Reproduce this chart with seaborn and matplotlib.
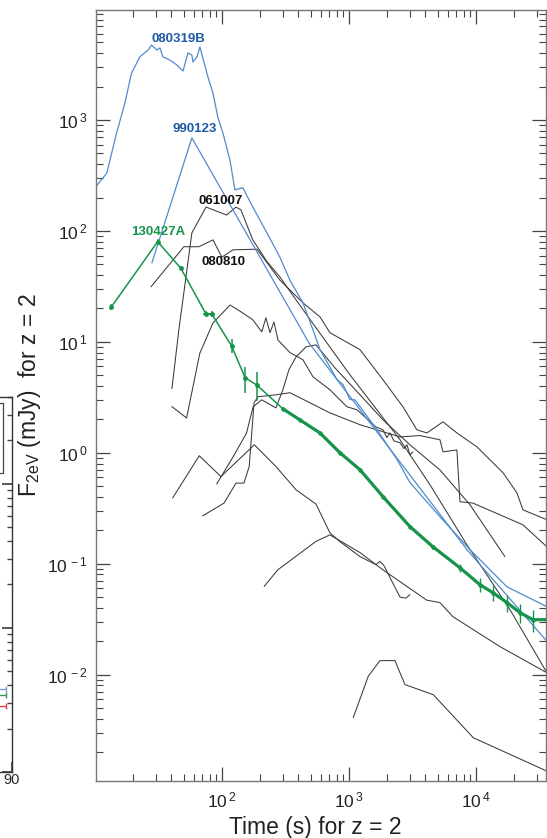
import matplotlib
matplotlib.use("Agg")
import matplotlib.pyplot as plt
import seaborn as sns
import numpy as np
from matplotlib.ticker import LogLocator, NullFormatter, FixedLocator, FixedFormatter
from matplotlib.patches import Rectangle

sns.set_theme(style="ticks")
plt.rcParams['font.family'] = ['Liberation Sans', 'DejaVu Sans']
plt.rcParams['mathtext.fontset'] = 'custom'
plt.rcParams['mathtext.rm'] = 'Liberation Sans'
plt.rcParams['mathtext.it'] = 'Liberation Sans:italic'
plt.rcParams['mathtext.bf'] = 'Liberation Sans:bold'

# ---------------- data (time s, flux mJy) ----------------
t_080319B = [10, 12.4, 14.8, 17.2, 19.4, 22.6, 26.3, 27.9, 30.8, 32.5, 34.4, 38.9, 44.2, 49.4,
             54.0, 58.0, 59.1, 63.6, 67.1, 70.8, 77.6, 84.9, 92.9, 101.8, 115.6, 126.6, 146,
             175, 226, 286, 343, 434, 521, 592, 805, 898, 1018, 1115, 1660, 2390, 3020, 5210,
             8970, 17500, 36200]
f_080319B = [245, 331, 759, 1413, 2630, 3715, 4275, 4740, 4270, 4460, 3700, 3470, 3130, 2760,
             4020, 3850, 3330, 3700, 4550, 3610, 2440, 1750, 1060, 764, 436, 234, 245,
             164, 96, 58, 36, 22.5, 12.8, 8.5, 4.57, 4.12, 3.02, 3.0, 1.62, 0.87, 0.54, 0.265,
             0.134, 0.062, 0.041]

t_990123 = [28.1, 58, 484, 8490, 36200]
f_990123 = [51.5, 689, 9.8, 0.134, 0.020]

t_061007 = [40.4, 45.8, 58, 75, 109, 129, 141, 175, 226, 286, 383, 550, 1018, 2523, 4345,
            8490, 18540, 36200]
f_061007 = [3.78, 12.8, 96, 164, 139, 164, 155, 83, 53, 38.5, 23.9, 13.4, 5.05, 1.31, 0.515,
            0.148, 0.0385, 0.0104]

t_080810 = [27.6, 50.2, 65.9, 85, 100, 122, 189, 286, 434, 591, 708, 1222, 1854, 2660, 3428,
            4112, 5500, 7080, 10180, 16340, 21000, 23440, 36200]
f_080810 = [31.3, 72, 72, 83, 58, 67.5, 68.4, 36, 22.5, 16.8, 12.1, 8.5, 4.55, 2.6, 1.61,
            1.51, 1.90, 1.51, 1.13, 0.66, 0.436, 0.306, 0.249]

t_grb_a = [40.3, 52.7, 67, 85, 116, 146, 175, 206, 222, 239, 257, 276, 343, 434, 521, 708, 964,
           1156, 1633, 1854, 1990, 2104, 2260, 2523, 2710, 2863, 3022, 3190]
f_grb_a = [2.61, 2.06, 7.9, 14.8, 21.5, 18.2, 15.8, 12.3, 16.5, 12.1, 15.1, 10.4, 8.0, 6.9,
           4.84, 3.70, 2.6, 2.44, 1.71, 1.61, 1.37, 1.51, 1.28, 1.23, 1.09, 1.18, 0.96, 1.02]

t_grb_b = [70.5, 104, 129, 149, 164, 179, 192, 266, 343, 708, 1222, 2523, 3623, 5206, 5500,
           7080, 7480, 9460, 15450, 23440, 36200]
f_grb_b = [0.27, 0.352, 0.533, 0.533, 0.753, 2.82, 3.2, 3.33, 3.48, 2.29, 1.79, 1.39, 1.43,
           1.31, 1.02, 1.06, 0.362, 0.352, 0.276, 0.224, 0.142]

t_grb_c = [90.9, 123, 156, 176, 206, 266, 302, 337, 383, 459, 550, 776, 1222, 1854, 3022,
           5206, 8970, 16900]
f_grb_c = [0.523, 0.927, 1.50, 2.6, 3.0, 2.54, 3.70, 5.6, 7.3, 9.0, 9.4, 5.83, 3.33, 1.98,
           1.18, 0.70, 0.34, 0.116]

t_grb_d = [40.9, 66.3, 98.2, 180, 266, 383, 550, 708, 850, 1222, 1633, 1754, 1888, 2523,
           2812, 3022]
f_grb_d = [0.391, 0.94, 0.61, 1.18, 0.753, 0.464, 0.345, 0.19, 0.158, 0.116, 0.098, 0.105,
           0.096, 0.050, 0.049, 0.0526]

t_grb_e = [215, 275, 550, 708, 1222, 1854, 4090, 5206, 6590, 15450, 36200]
f_grb_e = [0.0624, 0.088, 0.159, 0.182, 0.126, 0.088, 0.047, 0.0446, 0.0333, 0.0179, 0.0104]

t_grb_f = [1081, 1419, 1754, 2302, 2760, 4613, 9530, 36200]
f_grb_f = [0.0041, 0.00966, 0.01337, 0.0134, 0.00813, 0.0066, 0.0027, 0.00135]

# 130427A
t_130427A_early = [13.5, 31.2, 47.5, 74.8, 83, 119, 152, 189]
f_130427A_early = [20.7, 80, 46, 17.9, 17.9, 9.2, 4.77, 4.06]
f_130427A_lo = [19.5, 76, 44, 17.0, 17.0, 8.0, 3.49, 2.9]
f_130427A_hi = [22.0, 84, 48, 18.8, 18.8, 10.5, 5.98, 5.3]
t_130427A_xlo = [13.5, 31.2, 47.5, 71.5, 79.5, 119, 152, 189]
t_130427A_xhi = [13.5, 31.2, 47.5, 78.0, 86.5, 119, 152, 189]
t_130427A = [302, 411, 591, 850, 1222, 1854, 3022, 4585, 7474, 10740, 13600, 17540, 22200,
             28100, 36200]
f_130427A = [2.49, 1.98, 1.51, 1.0, 0.703, 0.402, 0.216, 0.142, 0.092, 0.0647, 0.0548,
             0.0446, 0.0362, 0.0313, 0.0313]
f_130427A_err = [0.05, 0.04, 0.03, 0.02, 0.015, 0.01, 0.006, 0.006, 0.008, 0.009, 0.009,
                 0.008, 0.007, 0.007, 0.007]

labels = ["080319B", "990123", "061007", "130427A", "080810"]

BLUE_LINE = "#4f8ccc"
BLUE_TXT = "#1f5aa6"
GREEN = "#16944a"
BLACK = "#3a3a3a"

W, H = 547, 838
fig = plt.figure(figsize=(W / 100, H / 100), dpi=100)

# ---------- main axes ----------
L, R, T, B = 96, 546, 10, 781
ax = fig.add_axes([L / W, (H - B) / H, (R - L) / W, (B - T) / H])
ax.set_xscale("log")
ax.set_yscale("log")
ax.set_xlim(10.2, 35600)
ax.set_ylim(1.1e-3, 9800)

black_sets = [(t_061007, f_061007), (t_080810, f_080810), (t_grb_a, f_grb_a),
              (t_grb_b, f_grb_b), (t_grb_c, f_grb_c), (t_grb_d, f_grb_d),
              (t_grb_e, f_grb_e), (t_grb_f, f_grb_f)]
for tt, ff in black_sets:
    sns.lineplot(x=tt, y=ff, ax=ax, color=BLACK, lw=0.75, sort=False, estimator=None)

sns.lineplot(x=t_080319B, y=f_080319B, ax=ax, color=BLUE_LINE, lw=0.9, sort=False, estimator=None)
sns.lineplot(x=t_990123, y=f_990123, ax=ax, color=BLUE_LINE, lw=0.9, sort=False, estimator=None)

# 130427A
t_all = t_130427A_early + t_130427A
f_all = f_130427A_early + f_130427A
sns.lineplot(x=t_all, y=f_all, ax=ax, color=GREEN, lw=1.1, sort=False, estimator=None)
sns.lineplot(x=t_130427A, y=f_130427A, ax=ax, color=GREEN, lw=2.3, sort=False, estimator=None,
             marker="o", markersize=3.2, markeredgewidth=0)
ax.errorbar(t_130427A, f_130427A, yerr=f_130427A_err, fmt="none", ecolor=GREEN,
            elinewidth=1.0, capsize=0)
te = np.array(t_130427A_early)
fe = np.array(f_130427A_early)
ax.errorbar(te, fe,
            yerr=[fe - np.array(f_130427A_lo), np.array(f_130427A_hi) - fe],
            xerr=[te - np.array(t_130427A_xlo), np.array(t_130427A_xhi) - te],
            fmt="o", ms=2.5, color=GREEN, elinewidth=1.1, capsize=0)

ax.set_xlabel("Time (s) for z = 2", fontsize=16.5, color="#222222")
ax.set_ylabel(r"F$_{\rm 2eV}$ (mJy)  for z = 2", fontsize=16.5, color="#222222")
ax.xaxis.set_label_coords(0.487, -0.045)
ax.yaxis.set_label_coords(-0.117, 0.5)


def sup(e):
    return r"$\mathregular{10^{\,%d}}$" % e


ax.xaxis.set_major_locator(FixedLocator([1e2, 1e3, 1e4]))
ax.xaxis.set_major_formatter(FixedFormatter([sup(2), sup(3), sup(4)]))
ax.xaxis.set_minor_locator(LogLocator(base=10, subs=np.arange(2, 10)))
ax.xaxis.set_minor_formatter(NullFormatter())
yexp = [-2, -1, 0, 1, 2, 3]
ax.yaxis.set_major_locator(FixedLocator([10.0 ** e for e in yexp]))
ax.yaxis.set_major_formatter(FixedFormatter([sup(e) for e in yexp]))
ax.yaxis.set_minor_locator(LogLocator(base=10, subs=np.arange(2, 10), numticks=20))
ax.yaxis.set_minor_formatter(NullFormatter())

ax.tick_params(which="both", direction="in", top=True, right=True, color="#444444")
ax.tick_params(which="major", length=10, width=0.9, labelsize=12.5, pad=6, labelcolor="#222222")
ax.tick_params(which="minor", length=5, width=0.8)
ax.tick_params(axis="x", which="major", pad=7)
for s in ax.spines.values():
    s.set_color("#777777")
    s.set_linewidth(1.0)

txt_pos = [(0.184, 0.962, BLUE_TXT), (0.220, 0.846, BLUE_TXT), (0.278, 0.752, "#111111"),
           (0.138, 0.712, GREEN), (0.284, 0.673, "#111111")]
for lab, (fx, fy, c) in zip(labels, txt_pos):
    ax.text(fx, fy, lab, transform=ax.transAxes, ha="center", va="center",
            fontsize=9.5, fontweight="bold", color=c)

# ---------- fragment of neighbouring panel on the left ----------
pL, pR, pT, pB = -300, 11.7, 396.7, 772
ax0 = fig.add_axes([pL / W, (H - pB) / H, (pR - pL) / W, (pB - pT) / H])
ax0.set_xlim(0, 90)
ax0.set_yscale("log")
ax0.set_ylim(0.1, 40)
ax0.set_xticks([90])
ax0.set_xticklabels(["90"])
ax0.tick_params(which="both", direction="in", right=True, top=False, left=False,
                labelleft=False, color="#444444")
ax0.tick_params(which="major", length=7, labelsize=10.5, pad=1)
ax0.tick_params(which="minor", length=3.5)
for s in ax0.spines.values():
    s.set_color("#333333")
    s.set_linewidth(1.0)
ax0.add_patch(Rectangle((0.5, 0.797), 0.473, 0.186, transform=ax0.transAxes,
                        fill=False, ec="#444444", lw=0.9))
frag_y = [0.378, 0.343, 0.288]
frag_c = ["#7f9ed8", "#3a9a50", "#e04040"]
for yy, cc in zip(frag_y, frag_c):
    ax0.errorbar([80], [yy], xerr=[[8.35], [8.35]], fmt="none", ecolor=cc,
                 elinewidth=1.0, capsize=2.5)

fig.savefig("out.png", dpi=100)
